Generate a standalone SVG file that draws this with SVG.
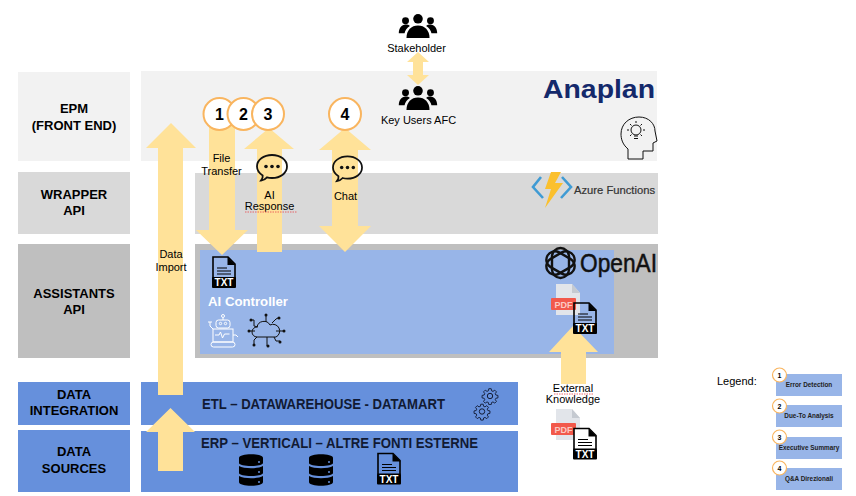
<svg xmlns="http://www.w3.org/2000/svg" xmlns:xlink="http://www.w3.org/1999/xlink" width="856" height="496" viewBox="0 0 856 496">
<style>
text{font-family:"Liberation Sans",Arial,sans-serif;fill:#000}
.lab{font-size:13px;font-weight:bold;text-anchor:middle}
.t{font-size:11px;text-anchor:middle}
.arrow{fill:#ffe299;stroke:none}
.num{font-size:16px;font-weight:bold;text-anchor:middle}
.c{fill:#fff;stroke:#f9b55f;stroke-width:2}
.lc{fill:#fff;stroke:#f9b55f;stroke-width:1.2}
.ln{font-size:7px;font-weight:bold;text-anchor:middle}
.lb{fill:#98b5e8}
.lt{font-size:6.4px;font-weight:bold;text-anchor:middle;fill:#222}
.sq{fill:none;stroke:#e8474c;stroke-width:.8;stroke-dasharray:1.5 1}
.bub{fill:none;stroke:#111;stroke-width:1.8}
</style>
<defs>
<symbol id="people" viewBox="0 0 40 25">
<circle cx="20" cy="5" r="5"/><circle cx="7" cy="7" r="3.6"/><circle cx="33" cy="7" r="3.6"/>
<path d="M8 25c0-8 5-13 12-13s12 5 12 13z"/>
<path d="M0 20c0-5 3-9 7-9 2 0 3.500 .5 4.500 1.500C8.500 14.500 6.500 17 6 20z"/>
<path d="M40 20c0-5-3-9-7-9-2 0-3.500 .5-4.500 1.500 3 2 5 4.500 5.500 7.500z"/>
</symbol>
<symbol id="txt" viewBox="0 0 24 32">
<path d="M1 22V1h15l7 7v14" fill="none" stroke="#000" stroke-width="1.600"/>
<path d="M15.500 1l8 8h-8z"/>
<path d="M5 12h10M5 15h14M5 18h14" stroke="#000" stroke-width="1.200"/>
<rect x="0" y="21" width="24" height="11" rx="1"/>
<text x="12" y="30" font-size="10" font-weight="bold" text-anchor="middle" style="fill:#fff">TXT</text>
</symbol>
<symbol id="pdf" viewBox="0 0 30 33">
<path d="M5 1h16l8 9v22H5z" fill="#e2e5ea"/>
<path d="M21 1l8 9h-8z" fill="#c5cad1"/>
<rect x="0" y="15" width="25" height="12" rx="1" fill="#f2594b"/>
<text x="12.500" y="24.500" font-size="9" font-weight="bold" text-anchor="middle" style="fill:#fbc9c2">PDF</text>
</symbol>
<symbol id="db" viewBox="0 0 24 32">
<path d="M0 4c0-5 24-5 24 0v5c0 4-24 4-24 0z"/>
<path d="M0 12c5 3 19 3 24 0v7c0 4-24 4-24 0z"/>
<path d="M0 22c5 3 19 3 24 0v6c0 5-24 5-24 0z"/>
<circle cx="20" cy="8" r="1" fill="#6690dc"/><circle cx="20" cy="18" r="1" fill="#6690dc"/><circle cx="20" cy="28" r="1" fill="#6690dc"/>
</symbol>
<symbol id="gear" viewBox="0 0 20 20">
<circle cx="10" cy="10" r="3" fill="none" stroke="#111a33" stroke-width="1.100"/>
<path d="M8.500 1h3l.5 2.600 1.700.7 2.200-1.500 2.100 2.100-1.500 2.200.7 1.700 2.600.5v3l-2.600.5-.7 1.700 1.500 2.200-2.100 2.100-2.200-1.500-1.700.7-.5 2.600h-3l-.5-2.600-1.700-.7-2.200 1.500-2.100-2.100 1.500-2.200-.7-1.700-2.600-.5v-3l2.600-.5.7-1.700-1.500-2.200 2.100-2.100 2.200 1.500 1.700-.7z" fill="none" stroke="#111a33" stroke-width="1.100" transform="translate(1 1) scale(.9)"/>
</symbol>
<symbol id="bubble" viewBox="0 0 32 30">
<path class="bub" d="M5 26.500c1.500-2 2-3.500 1.700-5C3 19 1 16 1 12.500 1 6 7.500 1 16 1s15 5 15 11.500S24.500 24 16 24c-2 0-3.500-.2-5-.7-1.500 1.700-3.500 3-6 3.200z"/>
<circle cx="10" cy="12.500" r="1.800" fill="#111"/><circle cx="16" cy="12.500" r="1.800" fill="#111"/><circle cx="22" cy="12.500" r="1.800" fill="#111"/>
</symbol>
</defs>

<g id="bands">
<rect x="18" y="72" width="112" height="89" fill="#f2f2f2"/>
<rect x="18" y="172" width="112" height="62" fill="#d9d9d9"/>
<rect x="18" y="244" width="112" height="114" fill="#bfbfbf"/>
<rect x="18" y="382" width="112" height="43" fill="#6690dc"/>
<rect x="18" y="430" width="112" height="62" fill="#6690dc"/>
<rect x="141" y="71" width="516" height="90" fill="#f2f2f2"/>
<rect x="195" y="173" width="463" height="61" fill="#d9d9d9"/>
<rect x="195" y="244" width="463" height="114" fill="#bfbfbf"/>
<rect x="200" y="250" width="414" height="104" fill="#98b5e8"/>
<rect x="141" y="382" width="377" height="43" fill="#6690dc"/>
<rect x="141" y="431" width="377" height="61" fill="#6690dc"/>
</g>

<g id="connectors">
<path class="arrow" d="M171 123L196 148H183V395H158V148H146z"/>
<path class="arrow" d="M170.500 408L195 432H183V471H158V432H146z"/>
<path class="arrow" d="M209 125H235V230H248L222 255 196 230H209z"/>
<path class="arrow" d="M269 128L294 149H282V252H257V149H244z"/>
<path class="arrow" d="M345 128L371 150H358V226H371L345 252 319 226H332V150H319z"/>
<path class="arrow" d="M418 52L429 62H423V75H429L418 85 407 75H413V62H407z"/>
<path class="arrow" d="M573 326L598 352H586V384H561V352H549z"/>
</g>

<g id="epm-label"><text class="lab" x="74" y="113">EPM</text><text class="lab" x="74" y="130">(FRONT END)</text></g>
<g id="wrapper-label"><text class="lab" x="74" y="199">WRAPPER</text><text class="lab" x="74" y="215">API</text></g>
<g id="assistants-label"><text class="lab" x="74" y="298">ASSISTANTS</text><text class="lab" x="74" y="314">API</text></g>
<g id="integration-label"><text class="lab" x="74" y="399">DATA</text><text class="lab" x="74" y="415">INTEGRATION</text></g>
<g id="sources-label"><text class="lab" x="74" y="456">DATA</text><text class="lab" x="74" y="473">SOURCES</text></g>

<g id="stakeholder">
<use href="#people" x="398" y="14" width="40" height="24"/>
<text class="t" x="416.500" y="52">Stakeholder</text>
</g>
<g id="key-users">
<use href="#people" x="398" y="86" width="40" height="24"/>
<text class="t" x="418.500" y="124">Key Users AFC</text>
</g>
<g id="anaplan">
<text x="543" y="98" font-size="25" font-weight="bold" textLength="112" lengthAdjust="spacingAndGlyphs" style="fill:#14296b">Anaplan</text>
</g>
<g id="head-icon" fill="none" stroke="#111" stroke-width="1">
<path d="M628 159V149C622 144 621 138 621 134 621 124 629 117 639 117 649 117 655 124 655 131L657 141 653 143V151H643V159z"/>
<circle cx="636" cy="130" r="5"/>
<path d="M634 136h4M634 138.500h4M636 121v2M627 130h2M643 130h2M630 124l1.500 1.500M642 124l-1.500 1.500M630 136l1.500-1.500M642 136l-1.500-1.500"/>
</g>
<g id="azure">
<path d="M541 177L533 187 543 198M562 177L571 187 561 198" fill="none" stroke="#3f9bd4" stroke-width="2.600"/>
<path d="M551 172H561L555 183H563L545 208 551 189H545z" fill="#fbc02d"/>
<text x="574" y="194" font-size="11" textLength="81" lengthAdjust="spacingAndGlyphs" stroke="#333" stroke-width=".2" style="fill:#333">Azure Functions</text>
</g>
<g id="openai">
<g fill="none" stroke="#111" stroke-width="2.400">
<rect x="552" y="248" width="17" height="30" rx="8.500"/>
<rect x="552" y="248" width="17" height="30" rx="8.500" transform="rotate(60 560.500 263)"/>
<rect x="552" y="248" width="17" height="30" rx="8.500" transform="rotate(120 560.500 263)"/>
</g>
<text x="580" y="272" font-size="26" textLength="77" lengthAdjust="spacingAndGlyphs" stroke="#111" stroke-width=".5" style="fill:#111">OpenAI</text>
</g>

<g id="step-1"><circle class="c" cx="219.500" cy="114" r="16"/><text class="num" x="219.500" y="120">1</text></g>
<g id="step-2"><circle class="c" cx="243.500" cy="114" r="16"/><text class="num" x="243.500" y="120">2</text></g>
<g id="step-3"><circle class="c" cx="268" cy="114" r="16"/><text class="num" x="268" y="120">3</text></g>
<g id="step-4"><circle class="c" cx="345" cy="114" r="16"/><text class="num" x="345" y="120">4</text></g>

<g id="file-transfer"><text class="t" x="221.500" y="162">File</text><text class="t" x="221.500" y="175">Transfer</text></g>
<g id="ai-response">
<use href="#bubble" x="256" y="154" width="32" height="30"/>
<text class="t" x="269.500" y="199">AI</text><text class="t" x="269.500" y="210">Response</text>
<path class="sq" d="M245 212H297"/>
</g>
<g id="chat">
<use href="#bubble" x="332" y="155" width="31" height="30"/>
<text class="t" x="345.500" y="200">Chat</text>
</g>
<g id="data-import"><text class="t" x="171" y="258">Data</text><text class="t" x="171" y="271">Import</text></g>

<g id="ai-controller">
<use href="#txt" x="212" y="256" width="24" height="32"/>
<text x="208" y="306" font-size="13.500" font-weight="bold" textLength="80" lengthAdjust="spacingAndGlyphs" style="fill:#fff">AI Controller</text>
<g fill="none" stroke="#fff" stroke-width="1">
<circle cx="223" cy="316" r="1.500"/><path d="M223 318v2"/>
<rect x="216" y="320" width="14" height="8" rx="2.500"/>
<circle cx="220.500" cy="323.500" r="1.200"/><circle cx="225.500" cy="323.500" r="1.200"/>
<rect x="213" y="329" width="20" height="13"/>
<path d="M215 335h4l1.500-3 2 6 2-4h5"/>
<rect x="211" y="342" width="24" height="5" rx="2.500"/>
<path d="M213 329l-3-3v-4M208 322h4M233 335h3l2 2"/>
</g>
<g fill="none" stroke="#111" stroke-width="1">
<path d="M257 337a5 5 0 0 1 0-10 7 7 0 0 1 13-2 6 6 0 0 1 6 12z"/>
<path d="M266 322v-6M258 327l-4-1v-6h-3M255 331h-6M257 337l-3 3v4M267 337v9M274 337l2 4h4M276 331h7M272 323l4-4 2-1"/>
</g>
<g fill="#111">
<circle cx="266" cy="315" r="1.500"/><circle cx="251" cy="320" r="1.500"/><circle cx="249" cy="331" r="1.500"/><circle cx="254" cy="345" r="1.500"/><circle cx="268" cy="346" r="1.500"/><circle cx="280" cy="342" r="1.500"/><circle cx="284" cy="331" r="1.500"/><circle cx="279" cy="318" r="1.500"/>
</g>
</g>
<g id="knowledge-top">
<use href="#pdf" x="551" y="283" width="30" height="33"/>
<use href="#txt" x="573" y="302" width="24" height="32"/>
</g>
<g id="external-knowledge">
<text class="t" x="573" y="392">External</text><text class="t" x="573" y="403">Knowledge</text>
<path class="sq" d="M554 394H593"/>
<use href="#pdf" x="551" y="408" width="30" height="33"/>
<rect x="574" y="428" width="22" height="22" fill="#fff"/>
<use href="#txt" x="573" y="427" width="24" height="33"/>
</g>
<g id="etl">
<text x="202" y="409" font-size="14" font-weight="bold" textLength="243" lengthAdjust="spacingAndGlyphs" style="fill:#111a33">ETL – DATAWAREHOUSE - DATAMART</text>
<use href="#gear" x="480" y="387" width="20" height="18"/>
<use href="#gear" x="473" y="402" width="18" height="19"/>
</g>
<g id="erp">
<text x="201" y="448" font-size="14" font-weight="bold" textLength="277" lengthAdjust="spacingAndGlyphs" style="fill:#111a33">ERP – VERTICALI – ALTRE FONTI ESTERNE</text>
<use href="#db" x="239" y="454" width="24" height="32"/>
<use href="#db" x="309" y="454" width="24" height="32"/>
<use href="#txt" x="377" y="452" width="24" height="33"/>
</g>
<g id="legend">
<text x="717" y="385" font-size="11">Legend:</text>
<rect class="lb" x="776" y="374" width="66" height="22"/>
<rect class="lb" x="776" y="405" width="66" height="22"/>
<rect class="lb" x="776" y="437" width="66" height="22"/>
<rect class="lb" x="776" y="468" width="66" height="22"/>
<text class="lt" x="809" y="387">Error Detection</text>
<text class="lt" x="809" y="418">Due-To Analysis</text>
<text class="lt" x="809" y="450">Executive Summary</text>
<text class="lt" x="809" y="481">Q&amp;A Direzionali</text>
<circle class="lc" cx="779.500" cy="375" r="7"/><text class="ln" x="779.500" y="378">1</text>
<circle class="lc" cx="779.500" cy="406" r="7"/><text class="ln" x="779.500" y="409">2</text>
<circle class="lc" cx="779.500" cy="437" r="7"/><text class="ln" x="779.500" y="440">3</text>
<circle class="lc" cx="779.500" cy="468" r="7"/><text class="ln" x="779.500" y="471">4</text>
</g>
</svg>
